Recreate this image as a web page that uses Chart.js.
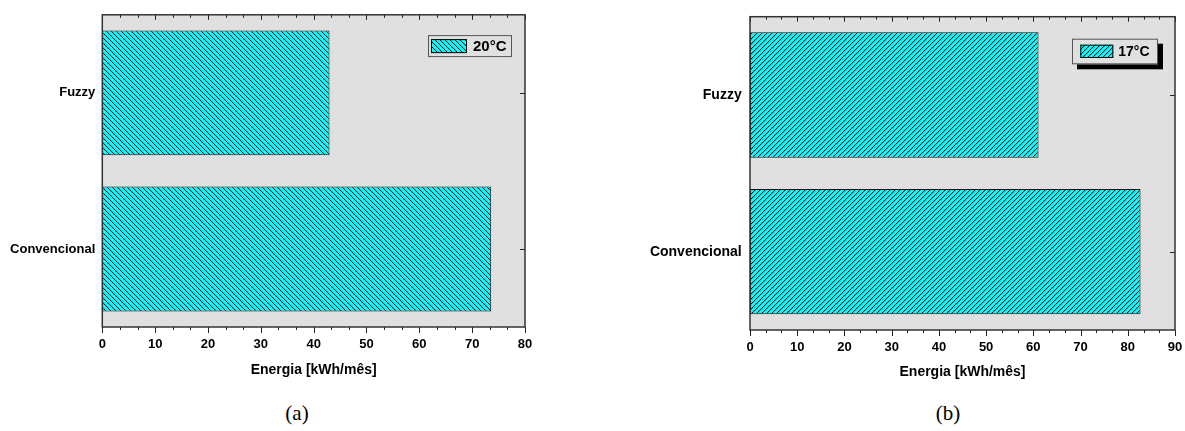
<!DOCTYPE html>
<html>
<head>
<meta charset="utf-8">
<script src="https://cdn.jsdelivr.net/npm/chart.js@4.4.1/dist/chart.umd.min.js"></script>
<style>
  html, body { margin: 0; padding: 0; background: #fff; }
  body { width: 1185px; height: 431px; position: relative; overflow: hidden; }
  canvas { position: absolute; top: 0; }
  #chart-a { left: 0; }
  #chart-b { left: 600px; }
  .caption {
    position: absolute; top: 400px; width: 60px; text-align: center;
    font-family: 'Liberation Serif', 'Times New Roman', serif; font-size: 21px; line-height: 26px; color: #000;
  }
</style>
</head>
<body>
<canvas id="chart-a" width="545" height="395"></canvas>
<canvas id="chart-b" width="600" height="395"></canvas>
<div class="caption" style="left: 267px;">(a)</div>
<div class="caption" style="left: 918px;">(b)</div>
<script>
// data
const categories = ['Fuzzy', 'Convencional'];
const energia20 = [43.0, 73.6];
const energia17 = [61.1, 82.7];
const xTicksA = [0, 10, 20, 30, 40, 50, 60, 70, 80];
const xTicksB = [0, 10, 20, 30, 40, 50, 60, 70, 80, 90];

const FONT = "'Liberation Sans', Arial, sans-serif";
const PLOT_BG = '#e0e0e0';

function makeHatch(size, dir, soft) {
  const c = document.createElement('canvas');
  c.width = size;
  c.height = size;
  const g = c.getContext('2d');
  g.fillStyle = '#00ffff';
  g.fillRect(0, 0, size, size);
  for (let i = 0; i < size; i++) {
    const x = dir === 'back' ? i : size - 1 - i;
    g.fillStyle = '#111';
    g.fillRect(x, i, 1, 1);
    g.fillStyle = `rgba(0,0,0,${soft})`;
    g.fillRect((x + 1) % size, i, 1, 1);
  }
  return g.createPattern(c, 'repeat');
}

// plot background, frame, minor ticks, right ticks
const plotFrame = {
  id: 'plotFrame',
  beforeDraw(chart) {
    const { ctx, chartArea: a } = chart;
    ctx.save();
    ctx.fillStyle = PLOT_BG;
    ctx.fillRect(a.left, a.top, a.width, a.height);
    ctx.restore();
  },
  afterDatasetsDraw(chart) {
    const { ctx, chartArea: a, scales: { x, y } } = chart;
    ctx.save();
    ctx.strokeStyle = '#222';
    ctx.lineWidth = 1;
    const nMinor = Math.round(x.max / 10 * 3);
    for (let k = 0; k <= nMinor; k++) {
      const px = Math.round(x.getPixelForValue(k * 10 / 3)) + 0.5;
      const major = k % 3 === 0;
      ctx.beginPath();
      ctx.moveTo(px, a.bottom);
      ctx.lineTo(px, a.bottom + (major ? 6 : 3));
      ctx.moveTo(px, a.top);
      ctx.lineTo(px, a.top + (major ? 5 : 3));
      ctx.stroke();
    }
    categories.forEach((c, i) => {
      const py = Math.round(y.getPixelForValue(i)) + 0.5;
      ctx.beginPath();
      ctx.moveTo(a.right - 5, py);
      ctx.lineTo(a.right, py);
      ctx.stroke();
    });
    ctx.lineWidth = 1.5;
    ctx.strokeStyle = '#333';
    ctx.strokeRect(a.left, a.top, a.width, a.height);
    ctx.restore();
  }
};

// legend box inside the plot
const boxLegend = {
  id: 'boxLegend',
  afterDraw(chart, args, o) {
    const { ctx, chartArea: a } = chart;
    const ds = chart.data.datasets[0];
    const x0 = a.right - o.right - o.width;
    const y0 = a.top + o.top;
    ctx.save();
    if (o.shadow) {
      ctx.fillStyle = '#000';
      ctx.fillRect(x0 + o.shadow, y0 + o.shadow, o.width, o.height);
    }
    ctx.fillStyle = PLOT_BG;
    ctx.fillRect(x0, y0, o.width, o.height);
    ctx.strokeStyle = '#555';
    ctx.lineWidth = 1;
    ctx.strokeRect(x0 + 0.5, y0 + 0.5, o.width - 1, o.height - 1);
    const [sx, sy, sw, sh] = o.swatch;
    ctx.fillStyle = ds.backgroundColor;
    ctx.fillRect(x0 + sx, y0 + sy, sw, sh);
    ctx.strokeStyle = '#000';
    ctx.strokeRect(x0 + sx + 0.5, y0 + sy + 0.5, sw - 1, sh - 1);
    ctx.fillStyle = '#000';
    ctx.font = `bold ${o.fontSize}px ${FONT}`;
    ctx.textBaseline = 'middle';
    ctx.textAlign = 'left';
    ctx.fillText(ds.label, x0 + sx + sw + o.gap, y0 + o.height / 2 + 1);
    ctx.restore();
  }
};

function buildChart(canvasId, values, label, hatch, xTicks, opts) {
  return new Chart(document.getElementById(canvasId), {
    type: 'bar',
    data: {
      labels: categories,
      datasets: [{
        label,
        data: values,
        backgroundColor: hatch,
        borderColor: '#111',
        borderWidth: 1,
        borderSkipped: false,
        categoryPercentage: 1.0,
        barPercentage: 0.8
      }]
    },
    options: {
      indexAxis: 'y',
      responsive: false,
      animation: false,
      devicePixelRatio: 1,
      layout: { padding: opts.padding },
      plugins: {
        legend: { display: false },
        tooltip: { enabled: false },
        boxLegend: opts.legend
      },
      scales: {
        x: {
          type: 'linear',
          min: xTicks[0],
          max: xTicks[xTicks.length - 1],
          afterBuildTicks: (s) => { s.ticks = xTicks.map((v) => ({ value: v })); },
          grid: { display: false, drawTicks: false },
          border: { display: false },
          ticks: {
            color: '#000',
            padding: opts.xTickPad,
            maxRotation: 0,
            font: { family: FONT, size: 13, weight: 'bold' }
          },
          title: {
            display: true,
            text: 'Energia [kWh/mês]',
            color: '#000',
            font: { family: FONT, size: 14, weight: 'bold' },
            padding: { top: 0, bottom: opts.titlePad }
          },
          afterFit: (s) => { s.height = 60; }
        },
        y: {
          type: 'category',
          grid: { display: false, drawTicks: false },
          border: { display: false },
          ticks: {
            color: '#000',
            padding: opts.yTickPad,
            font: { family: FONT, size: opts.catSize, weight: 'bold' }
          },
          afterFit: (s) => { s.width = opts.yWidth; }
        }
      }
    },
    plugins: [plotFrame, boxLegend]
  });
}

buildChart('chart-a', energia20, '20°C', makeHatch(5, 'back', 0.12), xTicksA, {
  padding: { left: 0, right: 20, top: 14.7, bottom: 8 },
  yWidth: 102.3,
  xTickPad: 9.5,
  yTickPad: 7,
  titlePad: 8,
  catSize: 13,
  legend: { right: 13, top: 20.3, width: 84, height: 22, swatch: [3, 4, 36, 14], gap: 6, fontSize: 15, shadow: 0 }
});

buildChart('chart-b', energia17, '17°C', makeHatch(5, 'fwd', 0.18), xTicksB, {
  padding: { left: 0, right: 25, top: 14.7, bottom: 5 },
  yWidth: 150,
  xTickPad: 10,
  yTickPad: 8.3,
  titlePad: 9.5,
  catSize: 14,
  legend: { right: 17, top: 22, width: 86, height: 25.6, swatch: [8.3, 6, 33, 13.3], gap: 5, fontSize: 14, shadow: 5 }
});
</script>
</body>
</html>
